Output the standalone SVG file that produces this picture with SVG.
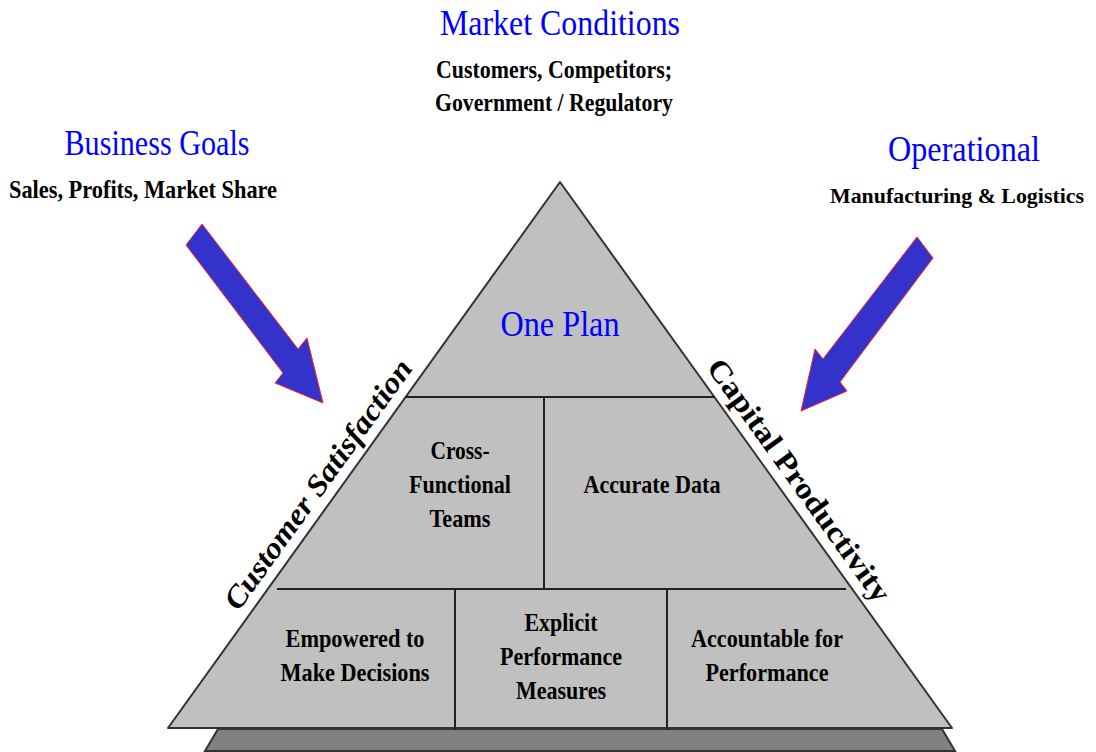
<svg xmlns="http://www.w3.org/2000/svg" width="1096" height="752" viewBox="0 0 1096 752">
  <style>
    .title { font-family: "Liberation Serif", "Times New Roman", serif; font-size: 36px; fill: #0000ff; text-anchor: middle; }
    .sub { font-family: "Liberation Serif", "Times New Roman", serif; font-size: 25px; font-weight: bold; fill: #000; text-anchor: middle; }
    .sub-narrow { font-size: 22px; }
    .cell { font-family: "Liberation Serif", "Times New Roman", serif; font-size: 25px; font-weight: bold; fill: #000; text-anchor: middle; }
    .side { font-family: "Liberation Serif", "Times New Roman", serif; font-size: 30px; font-weight: bold; fill: #000; text-anchor: middle; }
    .pyr { fill: #c0c0c0; stroke: #333; stroke-width: 2; stroke-linejoin: round; }
    .slab { fill: #808080; stroke: #333; stroke-width: 2; }
    .div { stroke: #222; stroke-width: 2; fill: none; }
    .arrow { fill: #3333cc; stroke: #ff2020; stroke-width: 1; stroke-linejoin: miter; }
  </style>

  <rect width="1096" height="752" fill="#ffffff"/>

  <!-- Header labels -->
  <g id="market">
    <text class="title" x="560" y="35" textLength="240" lengthAdjust="spacingAndGlyphs">Market Conditions</text>
    <text class="sub" x="554" y="78" textLength="236" lengthAdjust="spacingAndGlyphs">Customers, Competitors;</text>
    <text class="sub" x="554" y="111" textLength="238" lengthAdjust="spacingAndGlyphs">Government / Regulatory</text>
  </g>
  <g id="business">
    <text class="title" x="157" y="155" textLength="185" lengthAdjust="spacingAndGlyphs">Business Goals</text>
    <text class="sub" x="143" y="198" textLength="268" lengthAdjust="spacingAndGlyphs">Sales, Profits, Market Share</text>
  </g>
  <g id="operational">
    <text class="title" x="964" y="161" textLength="152" lengthAdjust="spacingAndGlyphs">Operational</text>
    <text class="sub sub-narrow" x="957" y="203" textLength="254" lengthAdjust="spacingAndGlyphs">Manufacturing &amp; Logistics</text>
  </g>

  <!-- Pyramid -->
  <g id="pyramid">
    <polygon class="slab" points="218,729 942,729 955,751 205,751"/>
    <polygon class="pyr" points="560,182 952,728 168,728"/>
    <line class="div" x1="405" y1="397" x2="715" y2="397"/>
    <line class="div" x1="277" y1="589" x2="846" y2="589"/>
    <line class="div" x1="544" y1="397" x2="544" y2="589"/>
    <line class="div" x1="455" y1="589" x2="455" y2="730"/>
    <line class="div" x1="667" y1="589" x2="667" y2="730"/>
  </g>

  <g id="one-plan">
    <text class="title" x="560" y="336" textLength="119" lengthAdjust="spacingAndGlyphs">One Plan</text>
  </g>
  <g id="cross-functional">
    <text class="cell" x="460" y="459" textLength="59" lengthAdjust="spacingAndGlyphs">Cross-</text>
    <text class="cell" x="460" y="493" textLength="102" lengthAdjust="spacingAndGlyphs">Functional</text>
    <text class="cell" x="460" y="527" textLength="61" lengthAdjust="spacingAndGlyphs">Teams</text>
  </g>
  <g id="accurate-data">
    <text class="cell" x="652" y="493" textLength="137" lengthAdjust="spacingAndGlyphs">Accurate Data</text>
  </g>
  <g id="empowered">
    <text class="cell" x="355" y="647" textLength="139" lengthAdjust="spacingAndGlyphs">Empowered to</text>
    <text class="cell" x="355" y="681" textLength="149" lengthAdjust="spacingAndGlyphs">Make Decisions</text>
  </g>
  <g id="explicit">
    <text class="cell" x="561" y="631" textLength="73" lengthAdjust="spacingAndGlyphs">Explicit</text>
    <text class="cell" x="561" y="665" textLength="122" lengthAdjust="spacingAndGlyphs">Performance</text>
    <text class="cell" x="561" y="699" textLength="90" lengthAdjust="spacingAndGlyphs">Measures</text>
  </g>
  <g id="accountable">
    <text class="cell" x="767" y="647" textLength="152" lengthAdjust="spacingAndGlyphs">Accountable for</text>
    <text class="cell" x="767" y="681" textLength="123" lengthAdjust="spacingAndGlyphs">Performance</text>
  </g>

  <!-- Side labels along the pyramid edges -->
  <g id="customer-satisfaction">
    <text class="side" font-style="italic" transform="translate(326,490) rotate(-54.3)" textLength="300" lengthAdjust="spacingAndGlyphs">Customer Satisfaction</text>
  </g>
  <g id="capital-productivity">
    <text class="side" transform="translate(791,486) rotate(54.3)" textLength="292" lengthAdjust="spacingAndGlyphs">Capital Productivity</text>
  </g>

  <!-- Input arrows -->
  <g id="connectors">
    <polygon class="arrow" points="202,224 298,349 307,338 323,403 275,383 283,373 186,245"/>
    <polygon class="arrow" points="917,237 933,258 840,382 847,391 801,411 815,349 823,359"/>
  </g>
</svg>
